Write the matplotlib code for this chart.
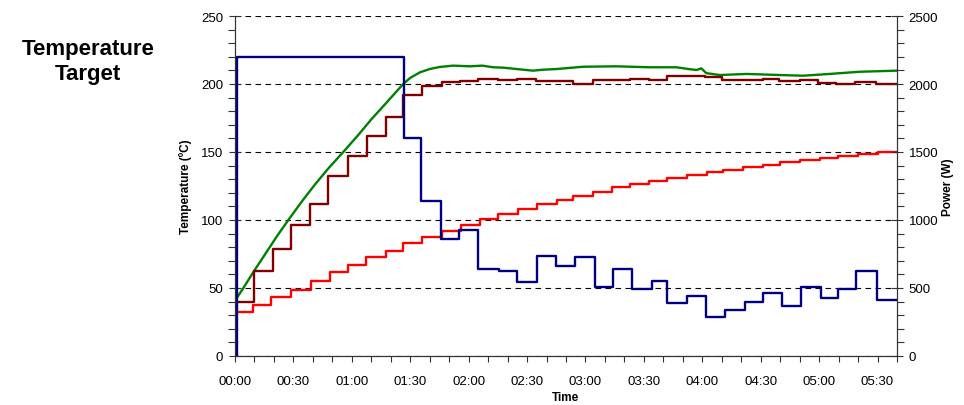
import matplotlib
matplotlib.use("Agg")
import matplotlib.pyplot as plt
from matplotlib.ticker import MultipleLocator, FuncFormatter

plt.rcParams["font.family"] = ["Liberation Sans", "DejaVu Sans"]

# minutes since start -> readings
green_t = [0, 4.3, 10, 16, 21.5, 27.4, 34, 41, 48, 55.6, 63, 70, 77, 82, 86.4, 90, 95, 100, 105, 112,
           120.6, 127, 132.6, 138, 144.6, 153.1, 158, 165.1, 178.8, 195.9, 213, 226.7, 233, 237, 239.5,
           242, 249, 262.7, 279.8, 291.7, 305.4, 320.8, 339.7]
green_v = [40.7, 50, 63, 76, 88, 100, 113, 126, 138, 150, 162, 174, 185, 193, 200, 204.5, 208.6, 211,
           212.5, 213.5, 213, 213.5, 212.3, 212, 211, 209.8, 210.5, 211, 212.7, 213, 212.3, 212.3, 211,
           210.3, 211.5, 208, 206.6, 207.4, 206.6, 206.1, 207.4, 209, 209.8]

setpoint_t = [0, 9.9, 19.7, 28.7, 38.6, 47.8, 57.8, 67.6, 77.4, 86.1, 95.8, 106.1, 115.5, 124.7, 135,
              144.8, 154.5, 173.5, 183.8, 202.8, 212.5, 221.8, 241.3, 250.3, 271, 279.2, 290, 299.3,
              308.9, 318.3, 329.4, 339.8]
setpoint_v = [39.5, 62.7, 78.7, 96.3, 111.8, 132.6, 147.3, 161.5, 176, 191.9, 198.3, 201.2, 202.4,
              203.7, 203, 203.7, 202, 199.8, 203, 203.7, 203, 206.1, 204.9, 203, 203.7, 202, 203,
              200.7, 199.8, 201.7, 200.2, 200.2]

target_t = [0, 9.4, 18.5, 28.7, 38.8, 48.8, 57.8, 67.2, 77.4, 86.1, 95.8, 106.1, 116.3, 125.7, 135,
            145.2, 155, 165.2, 173.5, 183.8, 193.5, 202.8, 212.5, 221.8, 232, 242.3, 250.5, 260.8,
            271, 279.8, 290, 300.3, 309.5, 319.8, 330, 340]
target_v = [32.1, 37.7, 43.1, 48.8, 54.9, 61.5, 67.2, 72.5, 77.4, 82.8, 87.7, 92.0, 96.6, 100.7,
            104.4, 108.0, 111.5, 115.0, 117.9, 120.8, 124.0, 126.5, 128.9, 130.6, 133.0, 135.0,
            137.0, 138.7, 140.7, 142.4, 144.1, 145.6, 147.3, 148.5, 149.8, 149.8]

power_t = [0, 1, 87, 95.5, 106, 115, 125, 135.5, 145, 155, 165, 174.5, 185, 194, 204, 214, 222, 232,
           242, 251.5, 262, 271, 281, 290.5, 301, 309.5, 319, 329.5, 340]
power_v = [0, 2200, 1600, 1140, 860, 926, 640, 627, 544, 738, 664, 728, 510, 640, 493, 554, 390, 444,
           287, 338, 400, 463, 370, 507, 426, 493, 627, 410, 410]

fig = plt.figure(figsize=(9.64, 4.06), dpi=100)
ax = fig.add_axes([235 / 964, 1 - 357 / 406, 662 / 964, 340 / 406])
ax2 = ax.twinx()

lw = 1.7
ax.plot(green_t, green_v, color="#008000", lw=lw)
ax.plot(setpoint_t, setpoint_v, color="#800000", lw=lw, drawstyle="steps-post")
ax.plot(target_t, target_v, color="#ff0000", lw=lw, drawstyle="steps-post")
ax2.plot(power_t, power_v, color="#000080", lw=lw, drawstyle="steps-post")

ax.set_xlim(0, 340)
ax.set_ylim(0, 250)
ax2.set_ylim(0, 2500)

ax.xaxis.set_major_locator(MultipleLocator(30))
ax.xaxis.set_minor_locator(MultipleLocator(10))
ax.xaxis.set_major_formatter(FuncFormatter(lambda v, p: f"{int(v) // 60:02d}:{int(v) % 60:02d}"))
ax.yaxis.set_major_locator(MultipleLocator(50))
ax.yaxis.set_minor_locator(MultipleLocator(10))
ax2.yaxis.set_major_locator(MultipleLocator(500))
ax2.yaxis.set_minor_locator(MultipleLocator(100))

tick_col = "#333333"
ax.tick_params(axis="x", which="both", direction="out", length=4, width=0.8, color=tick_col,
               labelsize=9.5, pad=10)
ax.tick_params(axis="y", which="major", direction="inout", length=9, width=0.8, color=tick_col,
               labelsize=9.5, pad=4)
ax.tick_params(axis="y", which="minor", direction="out", length=5, width=0.8, color=tick_col)
ax2.tick_params(axis="y", which="major", direction="inout", length=9, width=0.8, color=tick_col,
                labelsize=9.5, pad=4)
ax2.tick_params(axis="y", which="minor", direction="out", length=5, width=0.8, color=tick_col)

for a in (ax, ax2):
    a.spines["top"].set_visible(False)
    for s in ("left", "right", "bottom"):
        a.spines[s].set_color(tick_col)
        a.spines[s].set_linewidth(0.8)

ax.grid(axis="y", which="major", color="black", linestyle=(0, (5, 4)), lw=0.8)
ax.yaxis.get_gridlines()[-1].set_color("#c8c8c8")
ax.set_axisbelow(True)

ax.set_xlabel("Time", fontsize=8.5, fontweight="bold", va="center")
ax.xaxis.set_label_coords(0.5, -0.12)
ax.set_ylabel("Temperature (ºC)", fontsize=8.5, fontweight="bold", va="center")
ax.yaxis.set_label_coords(-0.074, 0.5)
ax2.set_ylabel("Power (W)", fontsize=8.5, fontweight="bold", va="center")
ax2.yaxis.set_label_coords(1.077, 0.5)

fig.text(88 / 964, 1 - 62 / 406, "Temperature\nTarget", ha="center", va="center",
         fontsize=16, fontweight="bold", linespacing=1.2)

fig.savefig("out.png", dpi=100)
